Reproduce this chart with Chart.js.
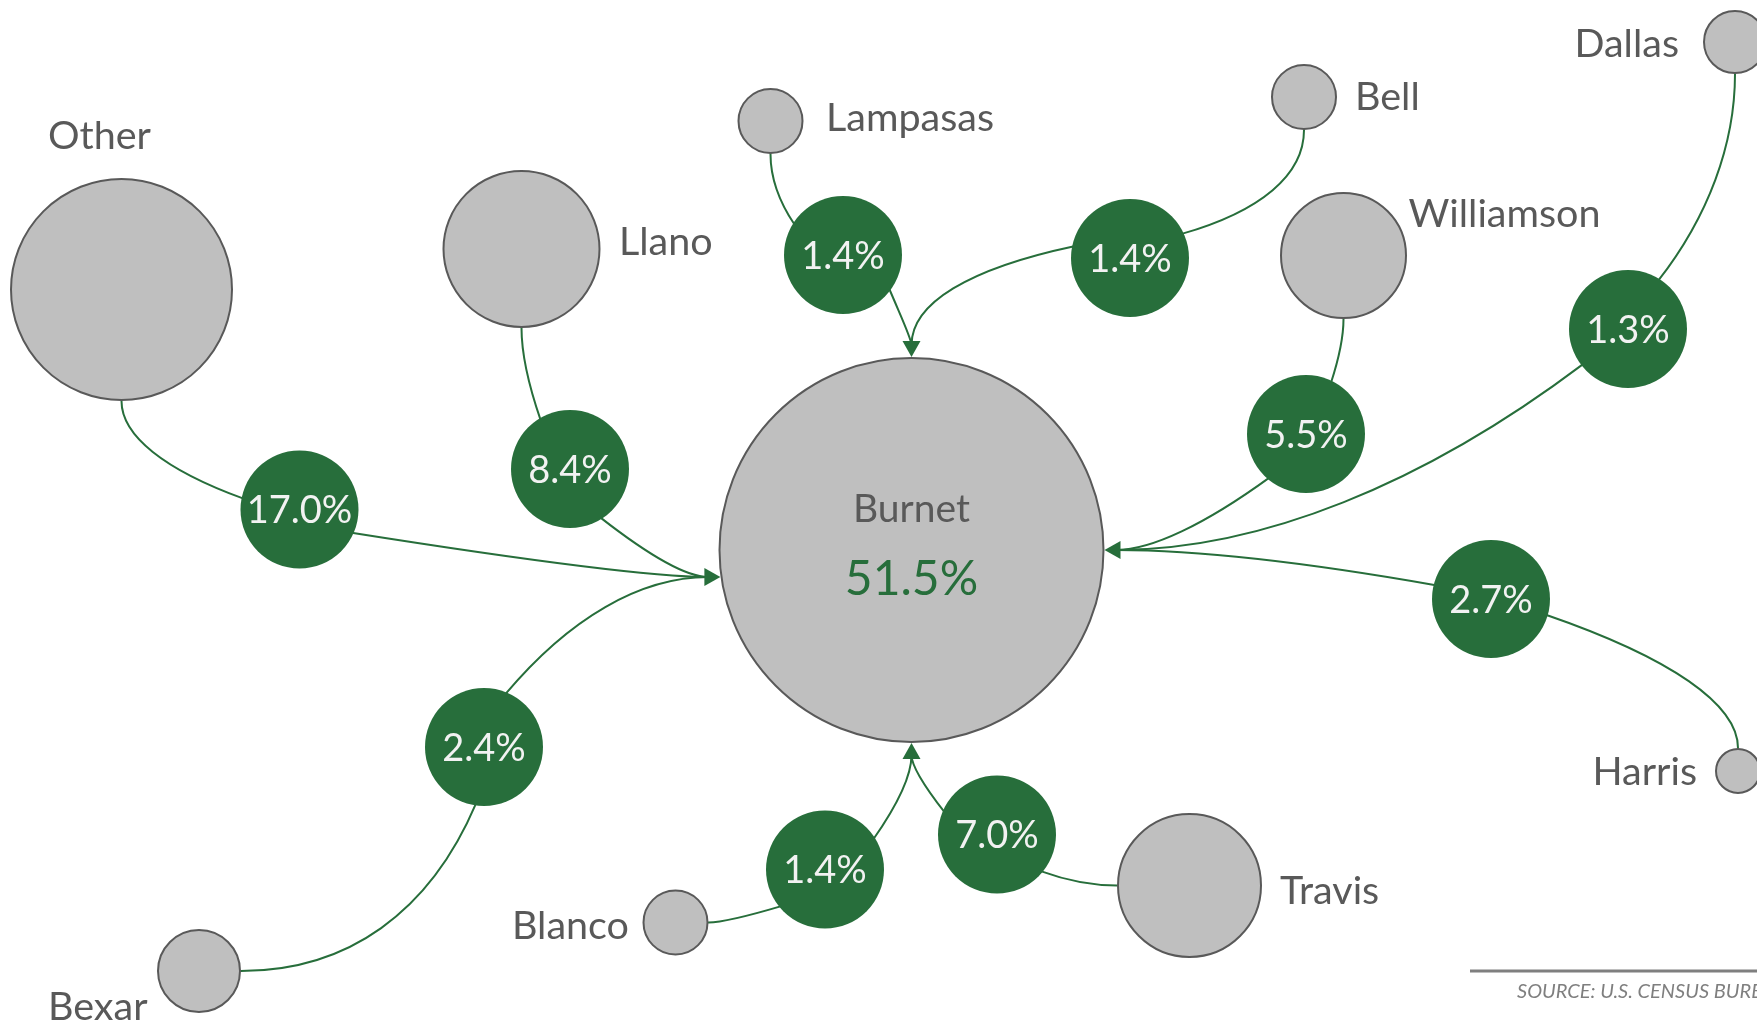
<!DOCTYPE html>
<html>
<head>
<meta charset="utf-8">
<script src="https://cdn.jsdelivr.net/npm/chart.js@4/dist/chart.umd.min.js"></script>
<style>
  html, body { margin: 0; padding: 0; background: #ffffff; overflow: hidden; }
  #wrap { width: 1757px; height: 1023px; position: relative; }
</style>
</head>
<body>
<div id="wrap"><canvas id="c" width="1757" height="1023"></canvas></div>
<script>
// ---------------- DATA ----------------
const homeCounty = 'Burnet';
const homeShare = 51.5;
const counties = ['Other', 'Llano', 'Lampasas', 'Bell', 'Williamson', 'Dallas', 'Harris', 'Travis', 'Blanco', 'Bexar'];
const shares   = [17.0, 8.4, 1.4, 1.4, 5.5, 1.3, 2.7, 7.0, 1.4, 2.4];
// node coordinates in the diagram's own (x, y) space, and bubble sizes
const homeX = 911.5, homeY = 550, homeSize = 192;
const nodeX    = [121.5, 521.5, 770.5, 1304, 1343.5, 1735, 1738, 1189.5, 675.5, 199];
const nodeY    = [289.5, 249, 121, 97, 255.5, 42, 771, 885.5, 922.5, 971];
const nodeSize = [110.5, 78, 32, 32, 62.5, 31, 22, 71.5, 32, 41];
// flow-share bubble coordinates
const flowX = [299.5, 570, 843, 1130, 1306, 1628, 1491, 997, 825, 484];
const flowY = [509.5, 469, 255, 258, 434, 329, 599, 834.5, 869.5, 747];
const sourceNote = 'SOURCE: U.S. CENSUS BUREAU';

// ---------------- LAYOUT / STYLE ----------------
const GREEN = '#276E3B';
const GRAY_FILL = '#BFBFBF';
const GRAY_LINE = '#595959';
const TEXT_GRAY = '#595959';
const FONT = 'Lato, "Open Sans", "DejaVu Sans", sans-serif';
const FLOW_R = 59;
const ARM = 0.65;
const layout = {
  srcSide: ['bottom', 'bottom', 'bottom', 'bottom', 'bottom', 'bottom', 'top', 'left', 'right', 'right'],
  dest:    ['left', 'left', 'top', 'top', 'right', 'right', 'right', 'bottom', 'bottom', 'left'],
  // where the curve meets the flow bubble: [position angle on bubble, travel direction] in degrees
  enter: [[191, 20], [239, 71], [212, 56], [-25, 164], [-64, 108], [-58, 128], [16, 199], [40, 200], [140, -16.5], [98, -67]],
  leave: [[24, 9], [58, 38], [36, 67], [192, 168], [130, 144], [142, 143], [194, 190], [203, 232], [-32, -55], [-68, -50]],
  // name label: [dx, dy from node centre to text anchor (baseline), align]
  name: [
    [-73.5, -140.5, 'left'],
    [97.5, 6, 'left'],
    [55.5, 10, 'left'],
    [51, 13, 'left'],
    [65, -28.5, 'left'],
    [-56, 15, 'right'],
    [-41, 14, 'right'],
    [90.5, 18.5, 'left'],
    [-46.5, 16.5, 'right'],
    [-151, 49, 'left']
  ]
};

const sideDir = { bottom: [0, 1], top: [0, -1], left: [-1, 0], right: [1, 0] };
const rad = d => d * Math.PI / 180;
const unit = d => [Math.cos(rad(d)), Math.sin(rad(d))];

function destAnchor(kind, cx, cy, r) {
  if (kind === 'left') { const dy = 27; return { x: cx - Math.sqrt(r * r - dy * dy), y: cy + dy, d: [1, 0] }; }
  if (kind === 'top') return { x: cx, y: cy - r, d: [0, 1] };
  if (kind === 'right') return { x: cx + r, y: cy, d: [-1, 0] };
  return { x: cx, y: cy + r, d: [0, -1] };
}

// control arms for a cubic from a (leaving along da) to b (arriving along db)
function arms(a, da, b, db) {
  const rx = b.x - a.x, ry = b.y - a.y;
  const det = da[0] * db[1] - da[1] * db[0];
  const chord = Math.hypot(rx, ry);
  if (Math.abs(det) > 1e-3) {
    const s = (rx * db[1] - ry * db[0]) / det;
    const u = (da[0] * ry - da[1] * rx) / det;
    if (s > 0 && u > 0) return [Math.max(s * ARM, 6), Math.max(u * ARM, 6)];
  }
  return [chord * 0.4, chord * 0.4];
}

function curve(ctx, a, da, b, db) {
  const k = arms(a, da, b, db);
  ctx.bezierCurveTo(a.x + da[0] * k[0], a.y + da[1] * k[0], b.x - db[0] * k[1], b.y - db[1] * k[1], b.x, b.y);
}

function drawArrow(ctx, tip, d, len, half) {
  const bx = tip.x - d[0] * len, by = tip.y - d[1] * len;
  const nx = -d[1], ny = d[0];
  ctx.beginPath();
  ctx.moveTo(tip.x, tip.y);
  ctx.lineTo(bx + nx * half, by + ny * half);
  ctx.lineTo(bx - nx * half, by - ny * half);
  ctx.closePath();
  ctx.fill();
}

const flowPlugin = {
  id: 'flows',
  beforeDatasetsDraw(chart) {
    const { ctx, scales: { x, y } } = chart;
    const cx = x.getPixelForValue(homeX), cy = y.getPixelForValue(homeY);
    ctx.save();
    ctx.strokeStyle = GREEN;
    ctx.lineWidth = 2;
    ctx.lineCap = 'round';
    counties.forEach((name, i) => {
      const nx = x.getPixelForValue(nodeX[i]), ny = y.getPixelForValue(nodeY[i]);
      const d0 = sideDir[layout.srcSide[i]];
      const p0 = { x: nx + d0[0] * (nodeSize[i] + 1), y: ny + d0[1] * (nodeSize[i] + 1) };
      const fx = x.getPixelForValue(flowX[i]), fy = y.getPixelForValue(flowY[i]);
      const en = layout.enter[i], lv = layout.leave[i];
      const rr = FLOW_R - 2;
      const e = { x: fx + rr * Math.cos(rad(en[0])), y: fy + rr * Math.sin(rad(en[0])) };
      const l = { x: fx + rr * Math.cos(rad(lv[0])), y: fy + rr * Math.sin(rad(lv[0])) };
      const dest = destAnchor(layout.dest[i], cx, cy, homeSize + 1);
      const p3 = { x: dest.x - dest.d[0] * 12, y: dest.y - dest.d[1] * 12 };
      ctx.beginPath();
      ctx.moveTo(p0.x, p0.y);
      curve(ctx, p0, d0, e, unit(en[1]));
      ctx.lineTo(l.x, l.y);
      curve(ctx, l, unit(lv[1]), p3, dest.d);
      ctx.stroke();
    });
    ctx.restore();
  },
  afterDatasetsDraw(chart) {
    const { ctx, scales: { x, y } } = chart;
    const cx = x.getPixelForValue(homeX), cy = y.getPixelForValue(homeY);
    ctx.save();
    // arrowheads
    ctx.fillStyle = GREEN;
    const used = {};
    layout.dest.forEach(k => {
      if (used[k]) return; used[k] = true;
      const dest = destAnchor(k, cx, cy, homeSize + 1);
      drawArrow(ctx, dest, dest.d, 16, 9);
    });
    // home label
    ctx.textAlign = 'center';
    ctx.fillStyle = TEXT_GRAY;
    ctx.font = '39px ' + FONT;
    ctx.fillText(homeCounty, cx, cy - 28);
    ctx.fillStyle = GREEN;
    ctx.font = '48px ' + FONT;
    ctx.fillText(homeShare.toFixed(1) + '%', cx, cy + 45);
    // flow shares
    ctx.fillStyle = '#F2F2F2';
    ctx.font = '38px ' + FONT;
    counties.forEach((name, i) => {
      ctx.fillText(shares[i].toFixed(1) + '%', x.getPixelForValue(flowX[i]), y.getPixelForValue(flowY[i]) + 13.5);
    });
    // county names
    ctx.fillStyle = TEXT_GRAY;
    ctx.font = '39.5px ' + FONT;
    counties.forEach((name, i) => {
      const n = layout.name[i];
      ctx.textAlign = n[2];
      ctx.fillText(name, x.getPixelForValue(nodeX[i]) + n[0], y.getPixelForValue(nodeY[i]) + n[1]);
    });
    // source note
    ctx.strokeStyle = '#7F7F7F';
    ctx.lineWidth = 3;
    ctx.beginPath();
    ctx.moveTo(1470, 971);
    ctx.lineTo(1757, 971);
    ctx.stroke();
    ctx.fillStyle = '#7F7F7F';
    ctx.textAlign = 'left';
    ctx.font = 'italic 20px ' + FONT;
    ctx.fillText(sourceNote, 1517, 998);
    ctx.restore();
  }
};

function build() {
  const grayData = [{ x: homeX, y: homeY, r: homeSize }].concat(
    counties.map((c, i) => ({ x: nodeX[i], y: nodeY[i], r: nodeSize[i] })));
  const flowData = counties.map((c, i) => ({ x: flowX[i], y: flowY[i], r: FLOW_R }));
  new Chart(document.getElementById('c'), {
    type: 'bubble',
    data: {
      datasets: [
        { label: 'Flows', data: flowData, backgroundColor: GREEN, borderWidth: 0, clip: false },
        { label: 'Counties', data: grayData, backgroundColor: GRAY_FILL, borderColor: GRAY_LINE, borderWidth: 2, clip: false }
      ]
    },
    options: {
      responsive: false,
      devicePixelRatio: 1,
      animation: false,
      events: [],
      layout: { padding: 0, autoPadding: false },
      plugins: { legend: { display: false }, tooltip: { enabled: false } },
      scales: {
        x: { type: 'linear', min: 0, max: 1757, display: false, offset: false, grace: 0 },
        y: { type: 'linear', min: 0, max: 1023, reverse: true, display: false, offset: false, grace: 0 }
      }
    },
    plugins: [flowPlugin]
  });
}

const fontLoads = [document.fonts.load('39px Lato'), document.fonts.load('italic 20px Lato')];
Promise.race([Promise.all(fontLoads), new Promise(r => setTimeout(r, 800))]).then(build, build);
</script>
</body>
</html>
